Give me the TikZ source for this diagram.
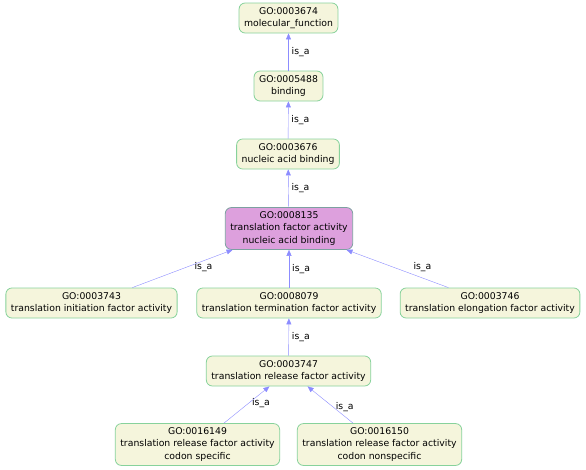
\documentclass[tikz,border=0pt]{standalone}
\usepackage{fontspec}
\setmainfont{DejaVu Sans}
\usetikzlibrary{arrows.meta}
\definecolor{bege}{RGB}{245,245,220}
\definecolor{borda}{RGB}{135,210,155}
\definecolor{roxo}{RGB}{221,160,221}
\definecolor{bordaroxo}{RGB}{125,160,160}
\definecolor{seta}{RGB}{140,140,255}
\tikzset{termo/.style={draw=borda,fill=bege,rounded corners=6pt,align=center,
  line width=0.8pt,inner xsep=5pt,inner ysep=4pt,minimum height=30pt,
  font=\fontsize{9.3}{12.5}\selectfont}}
\tikzset{isa/.style={draw=seta,-{Triangle[length=6pt,width=5pt,fill=seta]}}}
\begin{document}
\begin{tikzpicture}[x=1pt,y=-1pt,
                    destaque/.style={termo,fill=roxo,draw=bordaroxo},
                    rotulo/.style={font=\fontsize{9.3}{11}\selectfont,inner sep=3pt}]

		\useasboundingbox (0,0) rectangle (586,469);

		% Os termos de cima
		\node [termo] (t3674) at (288.5,18) {GO:0003674\\molecular\_function};
		\node [termo] (t5488) at (288.5,86) {GO:0005488\\binding};
		\node [termo] (t3676) at (288,154) {GO:0003676\\nucleic acid binding};

		% O termo em destaque
		\node [destaque] (t8135) at (289,228.5)
			{GO:0008135\\translation factor activity\\nucleic acid binding};

		% Os filhos
		\node [termo] (t3743) at (91.5,303) {GO:0003743\\translation initiation factor activity};
		\node [termo] (t8079) at (289,303) {GO:0008079\\translation termination factor activity};
		\node [termo] (t3746) at (490,303) {GO:0003746\\translation elongation factor activity};
		\node [termo] (t3747) at (288.5,371) {GO:0003747\\translation release factor activity};
		\node [termo] (t16149) at (197.5,444.5)
			{GO:0016149\\translation release factor activity\\codon specific};
		\node [termo] (t16150) at (379.5,444.5)
			{GO:0016150\\translation release factor activity\\codon nonspecific};

		% As arestas is_a
		\draw [isa] (t5488) -- node [rotulo,right] {is\_a} (t3674);
		\draw [isa] (t3676) -- node [rotulo,right] {is\_a} (t5488);
		\draw [isa] (t8135) -- node [rotulo,right] {is\_a} (t3676);
		\draw [isa] (t3743) -- node [rotulo,right=4pt,pos=0.55] {is\_a} (t8135);
		\draw [isa] (t8079) -- node [rotulo,right] {is\_a} (t8135);
		\draw [isa] (t3746) -- node [rotulo,right=18pt,pos=0.55] {is\_a} (t8135);
		\draw [isa] (t3747) -- node [rotulo,right] {is\_a} (t8079);
		\draw [isa] (t16149) -- node [rotulo,right,pos=0.55] {is\_a} (t3747);
		\draw [isa] (t16150) -- node [rotulo,right,pos=0.45] {is\_a} (t3747);

	\end{tikzpicture}
\end{document}
